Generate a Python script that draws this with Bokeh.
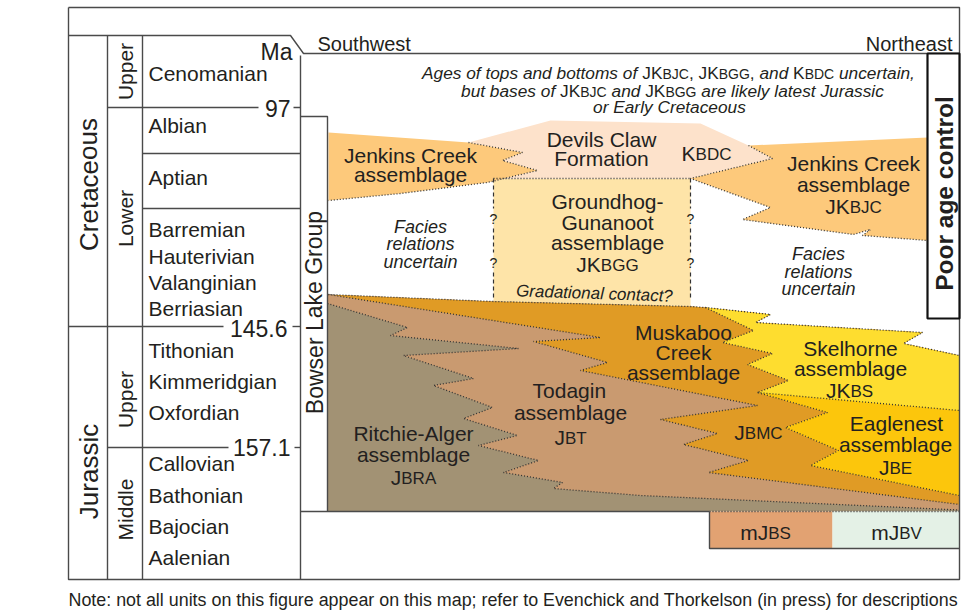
import math
from bokeh.plotting import figure
from bokeh.models import Range1d
from bokeh.core.properties import value
from bokeh.embed import file_html
from bokeh.resources import INLINE

# ---------------- data ----------------
PERIODS = ["Cretaceous", "Jurassic"]
EPOCHS = ["Upper", "Lower", "Upper", "Middle"]
STAGES = ["Cenomanian", "Albian", "Aptian", "Barremian", "Hauterivian",
          "Valanginian", "Berriasian", "Tithonian", "Kimmeridgian", "Oxfordian",
          "Callovian", "Bathonian", "Bajocian", "Aalenian"]
AGE_LABELS = ["97", "145.6", "157.1"]
DIRECTIONS = ["Southwest", "Northeast"]

# unit outlines in diagram coordinates (x: southwest -> northeast, y: young -> old)
MASS_TOP_X = [327, 493, 690, 705, 770, 755, 922, 903, 959]
MASS_TOP_Y = [294, 301, 306, 307, 314, 322, 332, 343, 355]
RA_TOP_X = [327, 407, 390, 518, 403, 473, 433, 492, 463, 517, 478, 538, 503, 562, 553, 640, 959]
RA_TOP_Y = [303, 327, 335, 348, 355, 378, 385, 407, 418, 435, 445, 460, 472, 482, 488, 495, 509.5]
TODAGIN_TOP_X = [328, 600, 533, 607, 580, 757, 660, 717, 683, 748, 708, 959]
TODAGIN_TOP_Y = [294, 337, 341, 362, 370, 405, 419, 433, 444, 460, 472, 504]
MUSKABOO_EDGE_X = [705, 753, 722, 772, 747, 788, 757, 827, 785, 838, 810, 959]
MUSKABOO_EDGE_Y = [307, 330, 342, 353, 364, 380, 392, 412, 427, 450, 465, 495]
SKEL_BASE_X = [757, 959]
SKEL_BASE_Y = [392, 410]
EAGLE_X = [757, 959, 959, 810, 838, 785, 827]
EAGLE_Y = [392, 410, 495, 465, 450, 427, 412]
JENKINS_W_X = [328, 468, 522, 502, 537, 487, 400, 328]
JENKINS_W_Y = [132, 142, 152, 160, 170, 182, 193, 200]
DEVILS_X = [468, 550, 700, 748, 772, 690, 493, 487, 537, 502, 522]
DEVILS_Y = [142, 120, 123, 145, 158, 178, 178, 182, 170, 160, 152]
JENKINS_E_X = [748, 927, 927, 862, 870, 853, 742, 770, 690, 772]
JENKINS_E_Y = [145, 137, 240, 235, 229, 234, 219, 207, 178, 158]
GROUNDHOG_X = [493, 690, 690, 493]
GROUNDHOG_Y = [178, 178, 306, 306]
BASE_Y = 511

C_RA, C_TOD, C_MUS = "#a29274", "#c99a70", "#e09b25"
C_SKE, C_EAG = "#fedd2f", "#fcc60c"
C_JEN, C_DEV, C_GRO = "#fdc97b", "#fde2cb", "#fee4a8"
C_MJBS, C_MJBV = "#e2a272", "#e4f1e6"
INK = "#231f20"
FONT = "Liberation Sans"

# ---------------- text metrics (Helvetica/Arial widths) ----------------
REG = {}
for ch, w in zip("ABCDEFGHIJKLMNOPQRSTUVWXYZ",
                 [667, 667, 722, 722, 667, 611, 778, 722, 278, 500, 667, 556, 833,
                  722, 778, 667, 778, 722, 667, 611, 722, 667, 944, 667, 667, 611]):
    REG[ch] = w
for ch, w in zip("abcdefghijklmnopqrstuvwxyz",
                 [556, 556, 500, 556, 556, 278, 556, 556, 222, 222, 500, 222, 833,
                  556, 556, 556, 556, 333, 500, 278, 556, 500, 722, 500, 500, 500]):
    REG[ch] = w
for ch in "0123456789":
    REG[ch] = 556
REG.update({" ": 278, ",": 278, ".": 278, ":": 278, ";": 278, "-": 333, "?": 556,
            "(": 333, ")": 333})
BOLD = dict(REG)
for ch, w in zip("abcdefghijklmnopqrstuvwxyz",
                 [556, 611, 556, 611, 556, 333, 611, 611, 278, 278, 556, 278, 889,
                  611, 611, 611, 611, 389, 556, 333, 611, 556, 778, 556, 556, 500]):
    BOLD[ch] = w


def tw(s, size, style="normal"):
    t = BOLD if style == "bold" else REG
    return sum(t.get(c, 556) for c in s) * size / 1000.0


TEXTS = []  # (x, y, text, size, style, align, angle)
MID = 0.3465  # em-box middle above baseline (Liberation Sans)


def add(x, y, t, size, style="normal", align="left", angle=0.0):
    TEXTS.append((x, y, t, size, style, align, angle))


def rich(cx, cy, segs, align="center"):
    widths = [tw(t, s, st) for t, s, st in segs]
    total = sum(widths)
    x0 = cx - total / 2 if align == "center" else (cx if align == "left" else cx - total)
    main = max(s for _, s, _ in segs)
    base = cy + MID * main
    for (t, s, st), w in zip(segs, widths):
        core = t.strip()
        if core:
            lead = tw(t[:len(t) - len(t.lstrip())], s, st)
            add(x0 + lead, base - MID * s, core, s, st)
        x0 += w


M, SC = 21, 17
N = "normal"
I = "italic"


def line(cx, cy, t, size=M, style=N):
    rich(cx, cy, [(t, size, style)])


# ---------------- figure ----------------
p = figure(width=971, height=612, x_range=Range1d(0, 971), y_range=Range1d(612, 0),
           x_axis_type=None, y_axis_type=None, toolbar_location=None,
           output_backend="svg", min_border=0, outline_line_color=None)
p.background_fill_color = "white"
p.border_fill_color = "white"

# unit fills (drawn bottom to top)
polys_x = [
    GROUNDHOG_X, DEVILS_X, JENKINS_W_X, JENKINS_E_X,
    MASS_TOP_X + [959, 327],
    MASS_TOP_X + RA_TOP_X[::-1],
    MASS_TOP_X + TODAGIN_TOP_X[::-1],
    MASS_TOP_X[3:] + MUSKABOO_EDGE_X[::-1],
    EAGLE_X,
    [709, 832, 832, 709], [832, 959, 959, 832],
]
polys_y = [
    GROUNDHOG_Y, DEVILS_Y, JENKINS_W_Y, JENKINS_E_Y,
    MASS_TOP_Y + [BASE_Y, BASE_Y],
    MASS_TOP_Y + RA_TOP_Y[::-1],
    MASS_TOP_Y + TODAGIN_TOP_Y[::-1],
    MASS_TOP_Y[3:] + MUSKABOO_EDGE_Y[::-1],
    EAGLE_Y,
    [BASE_Y, BASE_Y, 548, 548], [BASE_Y, BASE_Y, 548, 548],
]
colors = [C_GRO, C_DEV, C_JEN, C_JEN, C_RA, C_TOD, C_MUS, C_SKE, C_EAG, C_MJBS, C_MJBV]
p.patches(polys_x, polys_y, fill_color=colors, line_color=None)

# dotted contacts
dot_x = [MASS_TOP_X, RA_TOP_X, TODAGIN_TOP_X, MUSKABOO_EDGE_X, SKEL_BASE_X,
         JENKINS_W_X[1:], [493, 690], [JENKINS_E_X[0], JENKINS_E_X[-1]], [709, 959]]
dot_y = [MASS_TOP_Y, RA_TOP_Y, TODAGIN_TOP_Y, MUSKABOO_EDGE_Y, SKEL_BASE_Y,
         JENKINS_W_Y[1:], [178, 178], [JENKINS_E_Y[0], JENKINS_E_Y[-1]], [BASE_Y, BASE_Y]]
dot_x.append(JENKINS_E_X[3:][::-1] + [JENKINS_E_X[2]])
dot_y.append(JENKINS_E_Y[3:][::-1] + [JENKINS_E_Y[2]])
p.multi_line(dot_x, dot_y, line_color="#333333", line_width=1.3, line_dash="1 2")

# dashed uncertain contacts of Groundhog-Gunanoot
dash_x, dash_y = [], []
for gx in (493, 690):
    for a, b in ((178, 208), (228, 252), (272, 300)):
        dash_x.append([gx, gx])
        dash_y.append([a, b])
p.multi_line(dash_x, dash_y, line_color="#333333", line_width=1.2, line_dash="4 3")
for gx in (493, 690):
    for gy in (218, 262):
        rich(gx, gy, [("?", 14, N)])

# frame and time-scale lines
frame_x = [[68, 959, 959, 68, 68], [68, 290, 303, 959], [107, 107], [142, 142], [300, 300],
           [107, 258], [293, 300], [142, 300], [142, 300], [68, 223], [292, 300],
           [107, 228], [294, 300], [300, 327, 327], [300, 709], [709, 709, 959]]
frame_y = [[7, 7, 579, 579, 7], [35, 35, 53, 53], [35, 579], [35, 579], [55, 579],
           [107, 107], [107, 107], [153, 153], [208, 208], [326, 326], [326, 326],
           [447, 447], [447, 447], [116, 116, BASE_Y], [BASE_Y, BASE_Y], [BASE_Y, 548, 548]]
p.multi_line(frame_x, frame_y, line_color="#4a4a4a", line_width=1.4)

# poor age control box
p.quad(left=[927], right=[959], top=[53], bottom=[318], fill_color="white",
       line_color="#111111", line_width=2.2)

# ---------------- texts ----------------
stage_y = [73, 125, 177, 229, 256, 282, 308, 350, 381, 412, 463, 495, 526, 557]
for s, y in zip(STAGES, stage_y):
    rich(148, y, [(s, M, N)], align="left")

for t, (x, y) in zip(AGE_LABELS, [(290, 108), (287, 328), (290, 447)]):
    rich(x, y, [(t, 23, N)], align="right")
rich(292, 51, [("Ma", 23, N)], align="right")
rich(317, 43, [(DIRECTIONS[0], 20, N)], align="left")
rich(952, 43, [(DIRECTIONS[1], 20, N)], align="right")

# italic note on ages
NI, NS = 17.3, 14
rich(668, 72, [("Ages of tops and bottoms of ", NI, I), ("JK", NI, N), ("BJC", NS, N),
               (", ", NI, N), ("JK", NI, N), ("BGG", NS, N), (", ", NI, N),
               ("and ", NI, I), ("K", NI, N), ("BDC", NS, N), (" uncertain,", NI, I)])
rich(672, 90, [("but bases of ", NI, I), ("JK", NI, N), ("BJC", NS, N), (" and ", NI, I),
               ("JK", NI, N), ("BGG", NS, N), (" are likely latest Jurassic", NI, I)])
rich(669, 106, [("or Early Cretaceous", NI, I)])

# unit labels
line(410, 155, "Jenkins Creek"); line(410, 174, "assemblage")
line(601, 139, "Devils Claw"); line(601, 158, "Formation")
rich(706, 153, [("K", M, N), ("BDC", SC, N)])
line(853, 163, "Jenkins Creek"); line(853, 184, "assemblage")
rich(853, 206, [("JK", M, N), ("BJC", SC, N)])
line(607, 201, "Groundhog-"); line(607, 222, "Gunanoot"); line(607, 242, "assemblage")
rich(607, 264, [("JK", M, N), ("BGG", SC, N)])
add(594, 293, "Gradational contact?", 17, I, "center", -0.035)
for cx, ys in ((420, (226, 243, 261)), (818, (253, 271, 288))):
    for t, y in zip(("Facies", "relations", "uncertain"), ys):
        line(cx, y, t, 18, I)
line(683, 332, "Muskaboo"); line(683, 352, "Creek"); line(683, 372, "assemblage")
line(570, 390, "Todagin"); line(570, 412, "assemblage")
rich(570, 437, [("J", M, N), ("BT", SC, N)])
line(413, 433, "Ritchie-Alger"); line(413, 454, "assemblage")
rich(413, 477, [("J", M, N), ("BRA", SC, N)])
line(850, 348, "Skelhorne"); line(850, 368, "assemblage")
rich(849, 390, [("JK", M, N), ("BS", SC, N)])
rich(758, 432, [("J", M, N), ("BMC", SC, N)])
line(896, 423, "Eaglenest"); line(895, 444, "assemblage")
rich(895, 467, [("J", M, N), ("BE", SC, N)])
rich(765, 532, [("mJ", M, N), ("BS", SC, N)])
rich(896, 532, [("mJ", M, N), ("BV", SC, N)])

# rotated labels
R = math.pi / 2
add(88, 184, PERIODS[0], 26, N, "center", R)
add(88, 471, PERIODS[1], 26, N, "center", R)
for t, y in zip(EPOCHS, (71, 218, 399, 509)):
    add(125, y, t, M, N, "center", R)
add(314, 312, "Bowser Lake Group", 23, N, "center", R)
add(944, 193, "Poor age control", 24.5, "bold", "center", R)

NOTE = ("Note: not all units on this figure appear on this map; refer to Evenchick "
        "and Thorkelson (in press) for descriptions")
note_size = round(890 / tw(NOTE, 1.0), 2)
add(68, 599, NOTE, note_size, N, "left", 0.0)

groups = {}
for x, y, t, s, st, al, an in TEXTS:
    groups.setdefault((st, al), []).append((x, y, t, "%.2fpx" % s, an))
for (st, al), rows in groups.items():
    p.text(x=[r[0] for r in rows], y=[r[1] for r in rows], text=[r[2] for r in rows],
           text_font_size=[r[3] for r in rows], angle=[r[4] for r in rows],
           text_font=value(FONT), text_font_style=st, text_align=al,
           text_baseline="middle", text_color=INK)

open("out.html", "w").write(file_html(p, INLINE))
